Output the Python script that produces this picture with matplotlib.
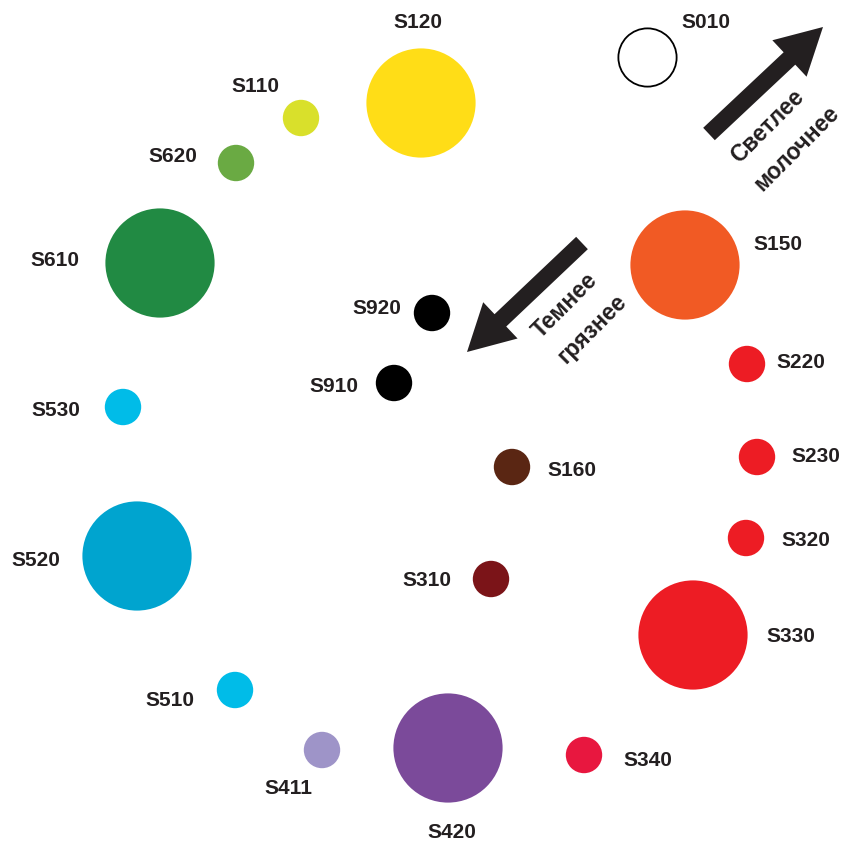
import matplotlib
matplotlib.use("Agg")
import matplotlib.pyplot as plt
from matplotlib.patches import FancyArrow

plt.rcParams['font.family'] = ['Liberation Sans Narrow', 'Liberation Sans', 'DejaVu Sans']

labels = ["S120", "S110", "S620", "S010", "S150", "S610", "S920", "S910", "S220", "S530",
          "S230", "S160", "S520", "S320", "S310", "S330", "S510", "S411", "S420", "S340"]
x = [421, 301, 236, 647, 685, 160, 432, 394, 747, 123,
     757, 512, 137, 746, 491, 693, 235, 322, 448, 584]
y = [103, 118, 163, 57, 265, 263, 313, 383, 364, 407,
     457, 467, 556, 538, 579, 635, 690, 750, 748, 755]
size = [3, 1, 1, 1.6, 3, 3, 1, 1, 1, 1,
        1, 1, 3, 1, 1, 3, 1, 1, 3, 1]
colors = ["#FFDD17", "#D9E02B", "#6AAA43", "#FFFFFF", "#F15A24", "#218A43", "#000000", "#000000",
          "#ED1C24", "#00BCE8", "#ED1C24", "#5A2613", "#00A4CF", "#ED1C24", "#7B1418", "#ED1C24",
          "#00BCE8", "#9E94C8", "#7B4A9A", "#E8173F"]
label_x = [418, 255, 173, 706, 778, 55, 377, 334, 801, 56,
           816, 572, 36, 806, 427, 791, 170, 288, 452, 648]
label_y = [23, 86, 157, 22, 244, 260, 308, 386, 362, 411,
           457, 471, 560, 540, 581, 637, 700, 789, 832, 760]

arrows = [((709, 134), (823, 27)), ((582, 243), (467, 352))]
arrow_texts = [("Светлее", 768, 126), ("молочнее", 797, 148),
               ("Темнее", 565, 306), ("грязнее", 592, 329)]

W, H = 847, 842
fig = plt.figure(figsize=(W / 100, H / 100), dpi=100)
ax = fig.add_axes([0, 0, 1, 1])
ax.set_xlim(0, W)
ax.set_ylim(H, 0)
ax.set_aspect('equal')
ax.axis('off')

base_r = 18.2  # pixel radius for unit size
for xi, yi, si, ci in zip(x, y, size, colors):
    r_pt = base_r * si * 0.72
    ec = 'black' if ci == "#FFFFFF" else 'none'
    ax.scatter([xi], [yi], s=(2 * r_pt) ** 2, c=ci, edgecolors=ec, linewidths=1.3, zorder=2)

for lab, lx, ly in zip(labels, label_x, label_y):
    ax.text(lx, ly, lab, ha='center', va='center', fontsize=15, fontweight='bold',
            color='#231F20', zorder=3)

for (x0, y0), (x1, y1) in arrows:
    ax.add_patch(FancyArrow(x0, y0, x1 - x0, y1 - y0, width=17, head_width=50, head_length=46,
                            length_includes_head=True, color='#231F20', zorder=3, lw=0))

for t, tx, ty in arrow_texts:
    ax.text(tx, ty, t, ha='center', va='center', rotation=45, rotation_mode='anchor',
            fontsize=16.5, fontweight='bold', color='#231F20', zorder=3)

fig.savefig("out.png", dpi=100, facecolor='white')
